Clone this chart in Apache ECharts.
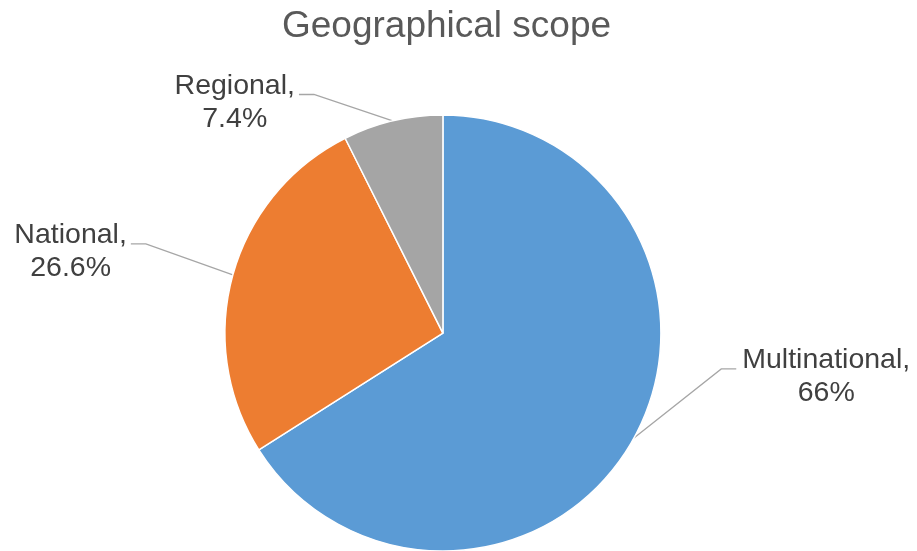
<!DOCTYPE html>
<html>
<head>
<meta charset="utf-8">
<script src="https://cdn.jsdelivr.net/npm/echarts@6/dist/echarts.min.js"></script>
<style>html,body{margin:0;padding:0;background:#fff}#chart{width:917px;height:551px}</style>
</head>
<body>
<div id="chart"></div>
<script>
const categories = ['Multinational', 'National', 'Regional'];
const values = [66, 26.6, 7.4];
const colors = ['#5B9BD5', '#ED7D31', '#A5A5A5'];

// label anchor placement (fractions of chart size): centre of text block
const labelAnchors = [
  { fx: 0.901, fy: 0.684, side: 'right' },
  { fx: 0.077, fy: 0.457, side: 'left' },
  { fx: 0.256, fy: 0.186, side: 'left' }
];

const chart = echarts.init(document.getElementById('chart'));
const W = 917, H = 551;
const FONT = "'Liberation Sans', Arial, sans-serif";

chart.setOption({
  animation: false,
  title: {
    text: 'Geographical scope',
    left: 277,
    top: 3,
    textStyle: { fontFamily: FONT, fontSize: 37, fontWeight: 'normal', color: '#595959' }
  },
  series: [{
    type: 'pie',
    center: ['48.3%', '60.45%'],
    radius: 218,
    startAngle: 90,
    clockwise: true,
    data: categories.map((c, i) => ({ name: c, value: values[i], itemStyle: { color: colors[i] } })),
    itemStyle: { borderColor: '#ffffff', borderWidth: 1.5 },
    label: {
      show: true,
      formatter: p => p.name + ',\n' + p.value + '%',
      fontFamily: FONT,
      fontSize: 28.5,
      lineHeight: 33,
      color: '#404040',
      align: 'center'
    },
    labelLine: { show: true, lineStyle: { color: '#A6A6A6', width: 1.3 } },
    labelLayout: function (params) {
      const a = labelAnchors[params.dataIndex];
      const cx = a.fx * W, cy = a.fy * H;
      const w = params.labelRect.width, h = params.labelRect.height;
      const start = params.labelLinePoints ? params.labelLinePoints[0] : [cx, cy];
      const lineY = cy - h / 2 + 25;
      let endX, bendX;
      if (a.side === 'right') {
        endX = cx - w / 2 - 6;
        bendX = endX - 15;
      } else {
        endX = cx + w / 2 + 4;
        bendX = endX + 15;
      }
      return {
        x: cx, y: cy, align: 'center', verticalAlign: 'middle',
        labelLinePoints: [start, [bendX, lineY], [endX, lineY]]
      };
    }
  }]
});
</script>
</body>
</html>
